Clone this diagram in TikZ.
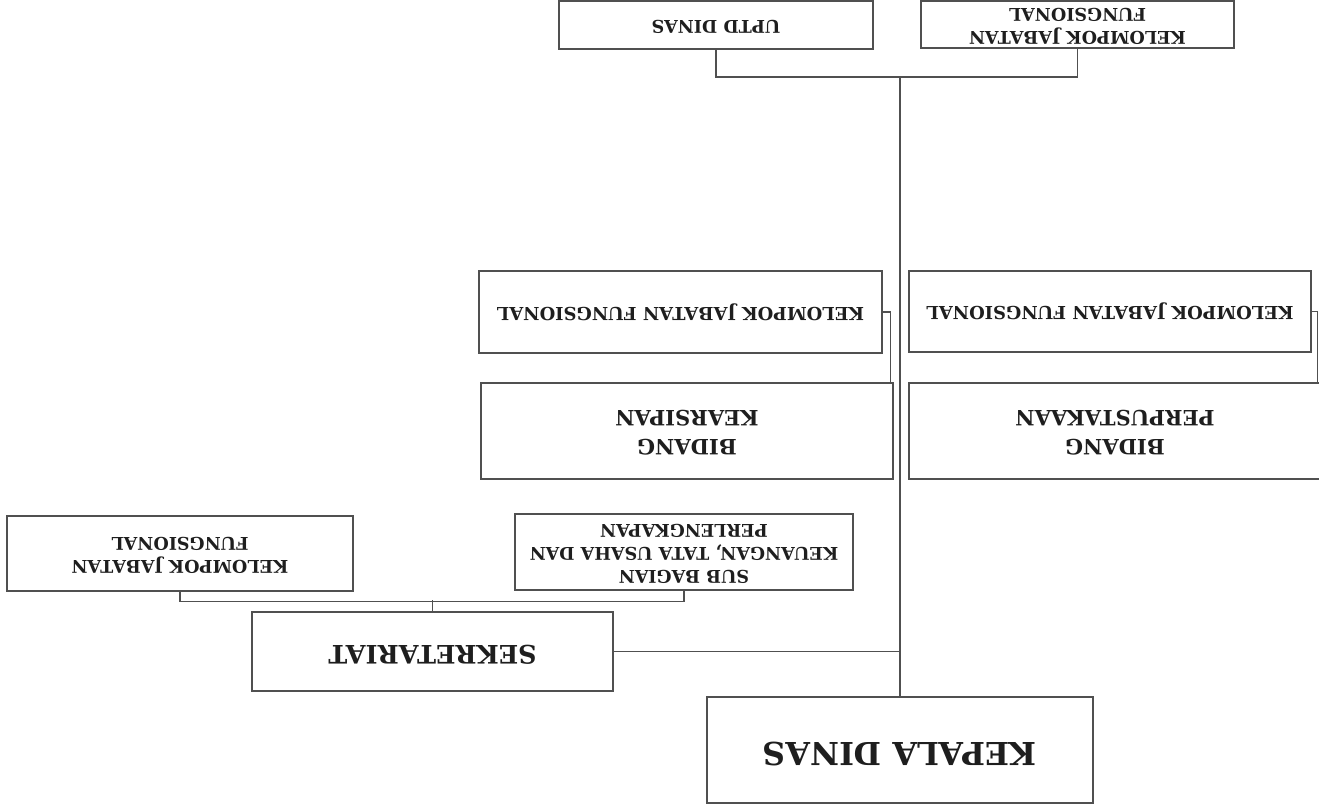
\documentclass[tikz,border=0pt]{standalone}
\usepackage{fontspec}
\setmainfont{DejaVu Serif}
\usepackage{graphicx}
\usepackage{tikz}
\definecolor{garis}{HTML}{505050}
\definecolor{teks}{HTML}{1e1e1e}
\tikzset{unit/.style={draw=garis,line width=0.8pt,inner sep=0pt,align=center,text=teks,font=\bfseries\fontsize{10}{13}\selectfont}}
\tikzset{link/.style={draw=garis,line width=0.7pt}}
% the chart is printed upside down
\newcommand{\flip}[1]{\rotatebox{180}{\begin{tabular}{@{}c@{}}#1\end{tabular}}}

\begin{document}
\begin{tikzpicture}[x=0.02cm,y=-0.02cm]
    \useasboundingbox (0,0) rectangle (1319,809);

    % top row
    \node [unit,minimum width=6.28cm,minimum height=0.96cm] (uptd) at (716,25) {\flip{UPTD DINAS}};
    \node [unit,minimum width=6.26cm,minimum height=0.94cm] (kjfa) at (1077.5,24.5) {\flip{KELOMPOK JABATAN\\FUNGSIONAL}};

    % bidang
    \node [unit,minimum width=8.06cm,minimum height=1.64cm,font=\bfseries\fontsize{10.2}{13}\selectfont] (kjfb) at (680.5,312) {\flip{KELOMPOK JABATAN FUNGSIONAL}};
    \node [unit,minimum width=8.24cm,minimum height=1.92cm,font=\bfseries\fontsize{12}{17}\selectfont] (bk) at (687,431) {\flip{BIDANG\\KEARSIPAN}};
    \node [unit,minimum width=8.04cm,minimum height=1.62cm,font=\bfseries\fontsize{10.2}{13}\selectfont] (kjfc) at (1110,311.5) {\flip{KELOMPOK JABATAN FUNGSIONAL}};
    \node [unit,minimum width=8.24cm,minimum height=1.92cm,font=\bfseries\fontsize{12}{17}\selectfont] (bp) at (1115,431) {\flip{BIDANG\\PERPUSTAKAAN}};

    % sekretariat
    \node [unit,minimum width=6.76cm,minimum height=1.52cm] (sub) at (684,552) {\flip{SUB BAGIAN\\KEUANGAN, TATA USAHA DAN\\PERLENGKAPAN}};
    \node [unit,minimum width=6.92cm,minimum height=1.5cm] (kjfd) at (180,553.5) {\flip{KELOMPOK JABATAN\\FUNGSIONAL}};
    \node [unit,minimum width=7.22cm,minimum height=1.58cm,font=\bfseries\fontsize{14.5}{17}\selectfont] (sek) at (432.5,651.5) {\flip{SEKRETARIAT}};

    % kepala
    \node [unit,minimum width=7.72cm,minimum height=2.12cm,font=\bfseries\fontsize{18}{22}\selectfont] (kd) at (900,750) {\flip{KEPALA DINAS}};

    % connectors
    \coordinate (bus) at (901,77);
    \draw [link] (uptd.south) |- (bus) -| (kjfa.south);
    \draw [link] (kd.north) -- (kd.north |- bus);
    \draw [link] (sek.east) -- (sek.east -| kd.north);
    \draw [link] (kjfd.south) -- ++(0,10) -| (sub.south);
    \draw [link] (sek.north) -- ++(0,-11);
    \draw [link] (kjfb.east) -| ([xshift=-1.7pt]bk.north east);
    \draw [link] (kjfc.east) -| ([xshift=-2.2pt]bp.north east);
\end{tikzpicture}
\end{document}
